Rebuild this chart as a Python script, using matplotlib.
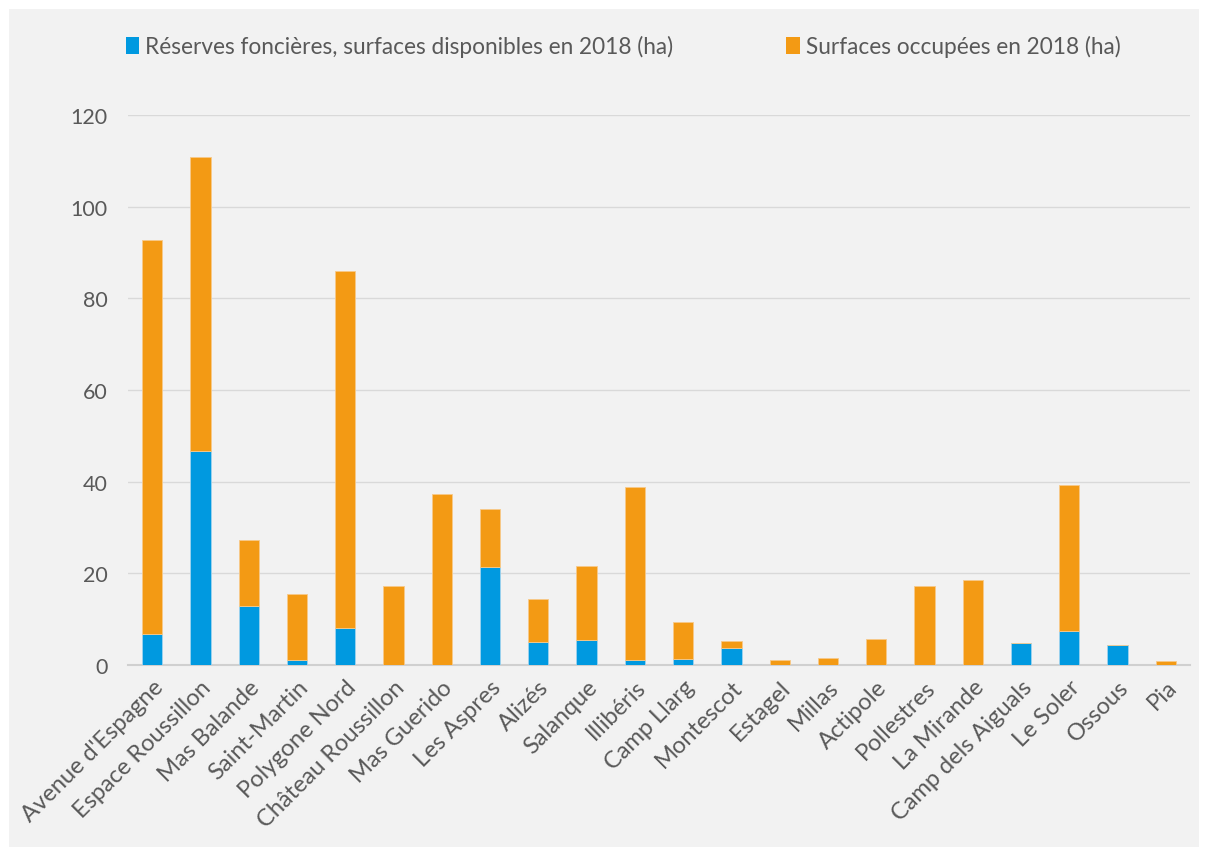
import matplotlib
matplotlib.use("Agg")
import matplotlib.pyplot as plt
from matplotlib.patches import Rectangle, Patch
import numpy as np

categories = ["Avenue d'Espagne", "Espace Roussillon", "Mas Balande", "Saint-Martin",
              "Polygone Nord", "Château Roussillon", "Mas Guerido", "Les Aspres",
              "Alizés", "Salanque", "Illibéris", "Camp Llarg", "Montescot", "Estagel",
              "Millas", "Actipole", "Pollestres", "La Mirande", "Camp dels Aiguals",
              "Le Soler", "Ossous", "Pia"]
reserves = [6.8, 46.7, 12.9, 1.1, 8.1, 0, 0, 21.4, 5.0, 5.5, 1.1, 1.3, 3.7, 0, 0, 0, 0, 0, 4.8, 7.4, 4.4, 0]
totals = [92.7, 110.8, 27.3, 15.5, 86.0, 17.2, 37.3, 34.0, 14.4, 21.6, 38.8, 9.4, 5.2, 1.0, 1.5, 5.7, 17.2, 18.5, 4.8, 39.3, 4.4, 0.8]
occupees = [round(t - r, 2) for t, r in zip(totals, reserves)]
yticks = [0, 20, 40, 60, 80, 100, 120]

blue = "#0099e0"
orange = "#f39a14"
txt = "#595959"

plt.rcParams['font.family'] = ['Lato', 'DejaVu Sans']

fig = plt.figure(figsize=(12.05, 8.54), dpi=100)
fig.patch.set_facecolor("white")
bg = Rectangle((9/1205, 1 - 848/854), (1199-9)/1205, (848-10)/854,
               transform=fig.transFigure, facecolor="#f2f2f2",
               edgecolor="none", zorder=-10)
fig.patches.append(bg)

ax = fig.add_axes([128/1205, 1 - 666/854, (1190-128)/1205, (666-116)/854])
ax.set_facecolor("none")
x = np.arange(len(categories))
w = 0.42
ax.bar(x, reserves, width=w, color=blue, edgecolor="#9fd3ef", linewidth=0.6, zorder=3)
ax.bar(x, occupees, bottom=reserves, width=w, color=orange, edgecolor="#f7c98a", linewidth=0.6, zorder=3)

ax.set_xlim(-0.5, len(categories) - 0.5)
ax.set_ylim(0, 120)
ax.set_yticks(yticks)
ax.set_yticklabels([str(v) for v in yticks], fontsize=15.5, color=txt)
ax.yaxis.grid(True, color="#d9d9d9", linewidth=1, zorder=0)
ax.set_axisbelow(True)
for s in ["top", "right", "left"]:
    ax.spines[s].set_visible(False)
ax.spines["bottom"].set_color("#d0d0d0")
ax.spines["bottom"].set_linewidth(1.5)
ax.tick_params(axis="both", length=0)
ax.tick_params(axis="y", pad=14.5)
ax.set_xticks(x)
ax.set_xticklabels(categories, rotation=45, ha="right", rotation_mode="anchor",
                   fontsize=17, color=txt)
ax.tick_params(axis="x", pad=8)

handles = [Patch(facecolor=blue, edgecolor="none", label="Réserves foncières, surfaces disponibles en 2018 (ha)"),
           Patch(facecolor=orange, edgecolor="none", label="Surfaces occupées en 2018 (ha)")]
fig.legend(handles=handles, loc="center", bbox_to_anchor=(623/1205, 1 - 47/854), ncol=2,
           frameon=False, fontsize=16.3, labelcolor=txt, handlelength=0.6, handleheight=0.8,
           handletextpad=0.25, columnspacing=5.0)

fig.savefig("out.png", dpi=100)
